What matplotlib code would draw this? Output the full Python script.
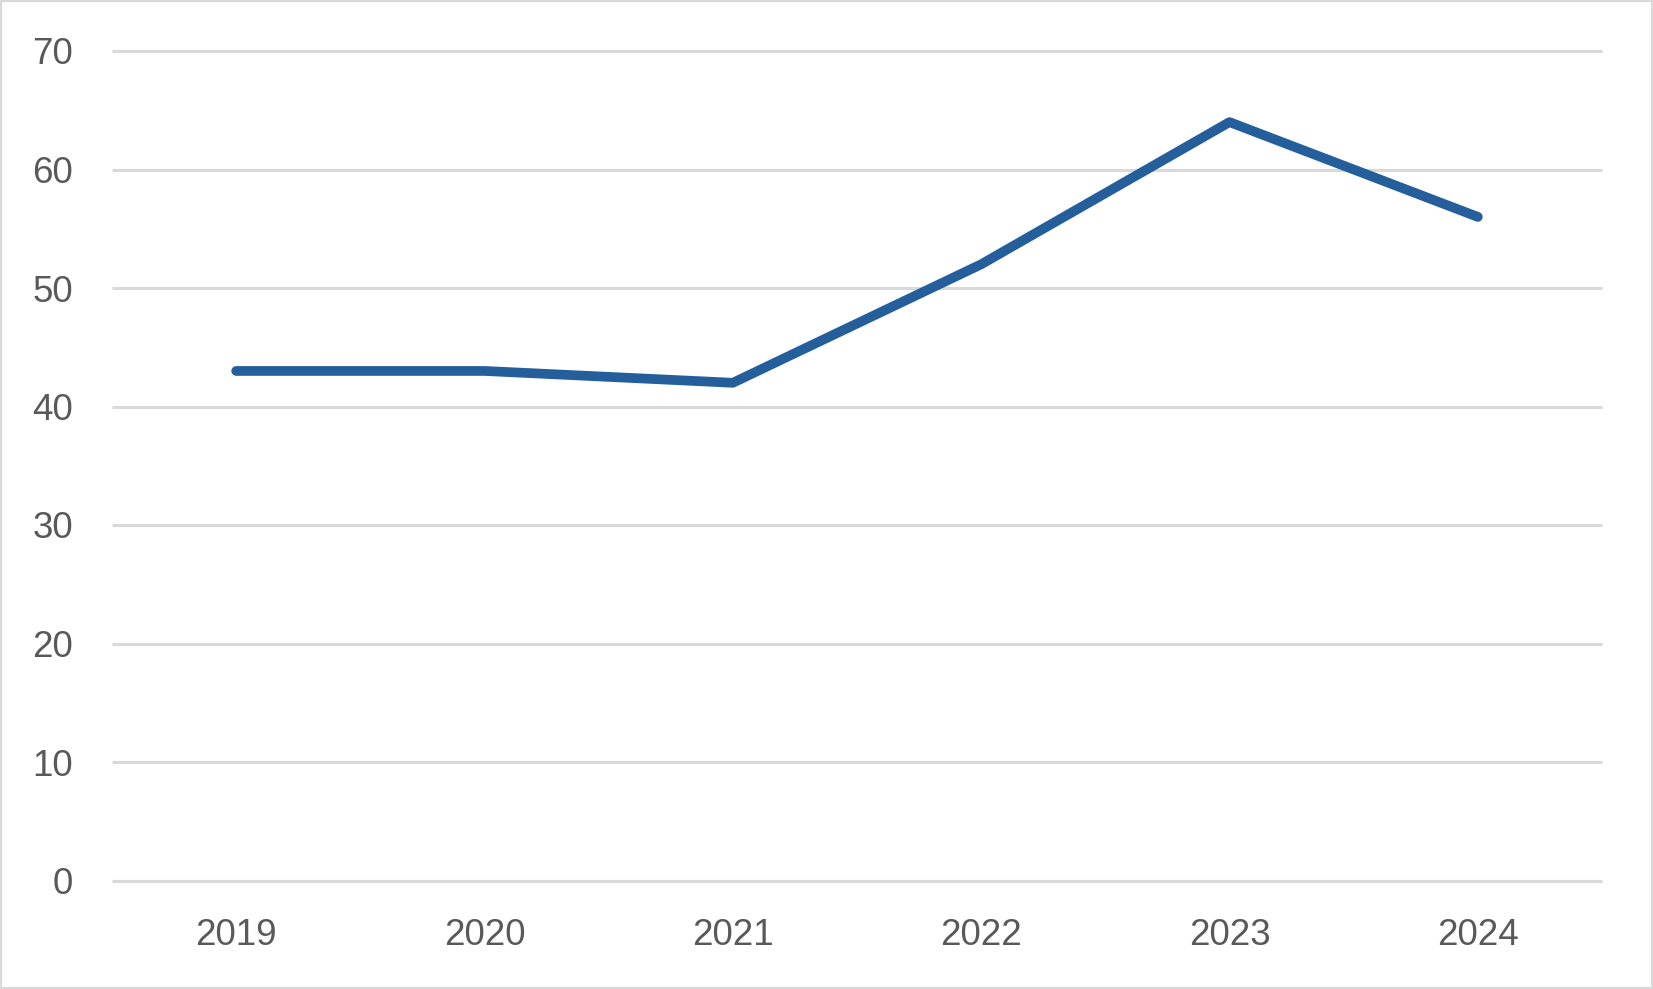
import matplotlib.pyplot as plt
from matplotlib.patches import Rectangle

years = ['2019', '2020', '2021', '2022', '2023', '2024']
values = [43, 43, 42, 52, 64, 56]
yticks = [0, 10, 20, 30, 40, 50, 60, 70]

plt.rcParams['font.family'] = ['Liberation Sans', 'DejaVu Sans']

W, H = 1653, 989
fig = plt.figure(figsize=(W / 100, H / 100), dpi=100)
ax = fig.add_axes([112 / W, (H - 880.5) / H, (1602 - 112) / W, (880.5 - 51) / H])

x = list(range(len(years)))
ax.plot(x, values, color='#245F9C', lw=7, solid_capstyle='round', solid_joinstyle='round', zorder=3)

ax.set_xlim(-0.5, len(years) - 0.5)
ax.set_ylim(0, 70)
ax.set_yticks(yticks)
ax.set_xticks(x)
ax.set_xticklabels(years)
ax.grid(axis='y', color='#D9D9D9', lw=2.2)
for gl in ax.get_ygridlines():
    gl.set_clip_on(False)
    gl.set_solid_capstyle('butt')
ax.set_axisbelow(True)
for s in ax.spines.values():
    s.set_visible(False)
ax.tick_params(axis='both', length=0, labelsize=26.5, labelcolor='#595959')
ax.tick_params(axis='y', pad=28)
ax.tick_params(axis='x', pad=27)

# light outer frame
fig.patches.append(Rectangle((0, 0), 1, 1, transform=fig.transFigure, fill=False,
                             edgecolor='#D9D9D9', lw=3, zorder=10))

fig.savefig('out.png', dpi=100)
plt.close()
